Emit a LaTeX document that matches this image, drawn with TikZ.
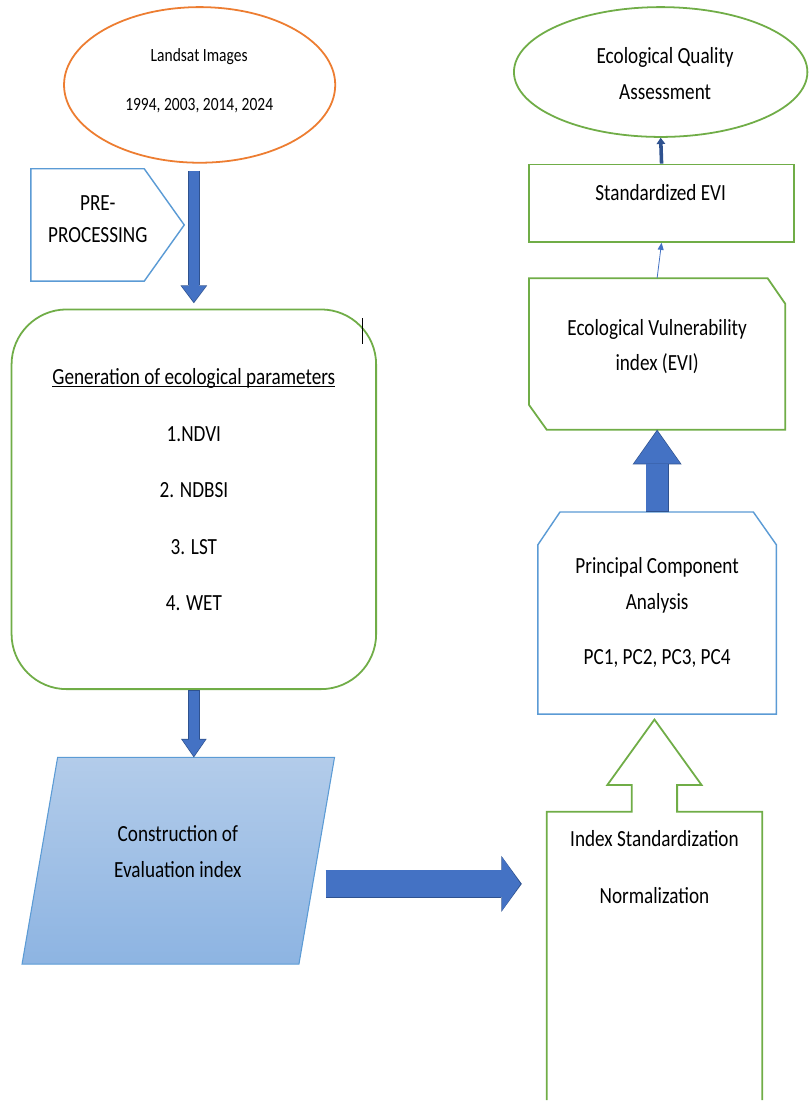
\documentclass[tikz,border=0pt]{standalone}
\usepackage{fontspec}
\setmainfont{Carlito}[FakeStretch=0.83]
\usepackage{tikz}
\usetikzlibrary{arrows.meta, calc, shapes.geometric}

\definecolor{orangeline}{HTML}{ED7D31}
\definecolor{greenline}{HTML}{70AD47}
\definecolor{blueline}{HTML}{5B9BD5}
\definecolor{arrowblue}{HTML}{4472C4}
\definecolor{arrowdark}{HTML}{2F528F}
\definecolor{paratop}{HTML}{B3CCEA}
\definecolor{parabot}{HTML}{8DB4E2}

\tikzset{
  txt/.style={align=center, inner sep=0pt, font=\fontsize{26}{40}\selectfont},
  area/.style={inner sep=0pt},
  greenbox/.style={draw=greenline, line width=2pt, inner sep=0pt},
  greenedge/.style={draw=greenline, line width=2pt},
  blueedge/.style={draw=blueline, line width=1.6pt},
  fat/.style n args={3}{draw=arrowdark, line width=#1,
    -{Triangle[length=#3, width=#2, line width=0pt]},
    postaction={draw=arrowblue, line width=#1-1.6pt, shorten <=0.8pt, shorten >=1.5pt,
      -{Triangle[length=#3-2.4pt, width=#2-3pt, line width=0pt]}}},
}

\begin{document}
\begin{tikzpicture}[x=1pt, y=-1pt]
\path[fill=white] (0,0) rectangle (909,1101);

% left column
\node[ellipse, draw=orangeline, line width=2pt, minimum width=305, minimum height=175] (land) at (224.5,95.5) {};
\node[txt, font=\fontsize{21}{55}\selectfont] (landtext) at (224,90.5) {Landsat Images\\1994, 2003, 2014, 2024};

\node[area, minimum width=172, minimum height=126] (pre) at (121,253) {};
\draw[blueedge] (pre.north west) -- ($(pre.north east)+(-45,0)$) -- (pre.east)
  -- ($(pre.south east)+(-45,0)$) -- (pre.south west) -- cycle;
\node[txt, font=\fontsize{26}{37}\selectfont] (pretext) at (110,246.5) {PRE-\\PROCESSING};

\node[greenbox, rounded corners=62, minimum width=410, minimum height=427] (gen) at (218,561.5) {};
\node[txt, font=\fontsize{26}{63.5}\selectfont] (gentext) at (218,551)
  {\underbar{Generation of ecological parameters}\\1.NDVI\\2. NDBSI\\3. LST\\4. WET};
\draw[line width=0.8pt] (407,358) -- (407,387); % caret

% slanted input box
\node[area, minimum width=351, minimum height=232] (cons) at (200.5,968) {};
\shade[top color=paratop, bottom color=parabot, draw=blueline, line width=1.2pt]
  ($(cons.north west)+(40,0)$) -- (cons.north east) -- ($(cons.south east)+(-40,0)$) -- (cons.south west) -- cycle;
\node[txt, font=\fontsize{26}{41}\selectfont] (constext) at (200,957.5) {Construction of\\Evaluation index};

% right column
\node[greenbox, ellipse, minimum width=330, minimum height=146] (eqa) at (743,81) {};
\node[txt, font=\fontsize{26}{41}\selectfont] (eqatext) at (748,82.5) {Ecological Quality\\Assessment};

\node[greenbox, minimum width=298, minimum height=87] (std) at (744,228.5) {};
\node[txt] (stdtext) at (743,217) {Standardized EVI};

\node[area, minimum width=288, minimum height=170] (evi) at (739,398) {};
\draw[greenedge] (evi.north west) -- ($(evi.north east)+(-20,0)$) -- ($(evi.north east)+(0,29)$)
  -- (evi.south east) -- ($(evi.south west)+(20,0)$) -- ($(evi.south west)+(0,-28)$) -- cycle;
\node[txt] (evitext) at (739,390) {Ecological Vulnerability\\index (EVI)};

\node[area, minimum width=268, minimum height=227] (pca) at (739,689.5) {};
\draw[blueedge] (pca.south west) -- ($(pca.north west)+(0,37)$) -- ($(pca.north west)+(25,0)$)
  -- ($(pca.north east)+(-26,0)$) -- ($(pca.north east)+(0,37)$) -- (pca.south east) -- cycle;
\node[txt] (pcatext) at (739,689) {Principal Component\\Analysis\\[22pt]PC1, PC2, PC3, PC4};

\node[txt, font=\fontsize{26}{65}\selectfont, minimum width=242, minimum height=124] (idx) at (736,975)
  {Index Standardization\\Normalization};
\coordinate (tip) at ($(idx.north |- pca.south)+(0,6)$);
\draw[greenedge] ($(idx.south west)+(0,200)$) -- (idx.north west)
  -- ($(idx.north)+(-25.5,0)$) -- ($(idx.north)+(-25.5,-30)$) -- ($(idx.north)+(-53,-30)$)
  -- (tip) -- ($(idx.north)+(53,-30)$) -- ($(idx.north)+(25.5,-30)$) -- ($(idx.north)+(25.5,0)$)
  -- (idx.north east) -- ($(idx.south east)+(0,200)$);

% arrows
\draw[fat={13pt}{30pt}{20pt}] ($(gen.north |- land.south)+(0,8)$) -- ($(gen.north)+(0,-6)$);
\draw[fat={13pt}{29pt}{21pt}] (gen.south) -- (gen.south |- cons.north);
\draw[fat={32pt}{63pt}{23pt}] ($(cons.east |- 0,994)+(-10,0)$) -- ($(idx.west |- 0,994)+(-28,0)$);
\draw[fat={26pt}{55pt}{39pt}] (pca.north) -- (evi.south);
\draw[arrowblue, line width=0.9pt, -{Triangle[length=8pt, width=7pt, line width=0pt]}] (evi.north) -- (std.south);
\draw[arrowdark, line width=4pt, -{Triangle[length=7pt, width=10pt, line width=0pt]}] (std.north) -- (eqa.south);
\end{tikzpicture}
\end{document}
